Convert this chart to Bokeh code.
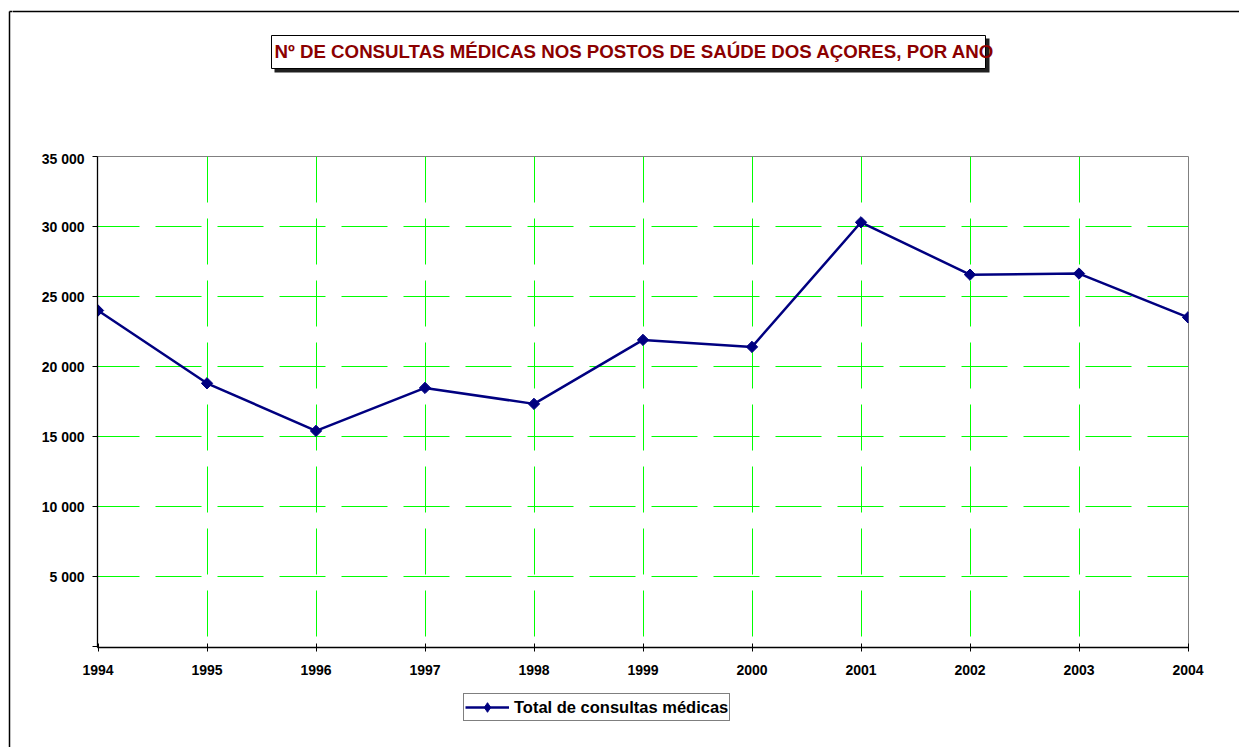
import math
from bokeh.plotting import figure
from bokeh.layouts import column, row
from bokeh.models import Legend, LegendItem, Range1d
from bokeh.core.properties import value
from bokeh.embed import file_html
from bokeh.resources import INLINE

years = [1994, 1995, 1996, 1997, 1998, 1999, 2000, 2001, 2002, 2003, 2004]
consultas = [24000, 18800, 15400, 18470, 17330, 21900, 21400, 30300, 26560, 26640, 23510]
y_ticks = [0, 5000, 10000, 15000, 20000, 25000, 30000, 35000]
y_tick_labels = ["", "5 000", "10 000", "15 000", "20 000", "25 000", "30 000", "35 000"]
x_tick_labels = [str(y) for y in years]
title_text = "Nº DE CONSULTAS MÉDICAS NOS POSTOS DE SAÚDE DOS AÇORES, POR ANO"
series_name = "Total de consultas médicas"

FONT = "Liberation Sans"
PAGE_W, PAGE_H = 1239, 747
STRIP_W = 12
COL_W = PAGE_W - STRIP_W
HEAD_H = 150
MAIN_H = 540
FOOT_H = PAGE_H - HEAD_H - MAIN_H
LINE_COLOR = "#000080"

FRAME_LEFT = 97 - STRIP_W
FRAME_W = 1091
FRAME_RIGHT = COL_W - FRAME_LEFT - FRAME_W


def blank(fig):
    fig.axis.visible = False
    fig.grid.visible = False
    fig.outline_line_color = None
    fig.background_fill_color = "white"
    fig.border_fill_color = "white"
    if "frame_align" in fig.properties():
        fig.frame_align = False


# ---------------- left strip: chart border, left edge ----------------
strip = figure(width=STRIP_W, height=PAGE_H, output_backend="svg", toolbar_location=None,
               x_range=Range1d(0, STRIP_W), y_range=Range1d(PAGE_H, 0),
               min_border=0, title=None)
blank(strip)
strip.segment(x0=[9, 9], y0=[11, 11], x1=[STRIP_W + 2, 9], y1=[11, PAGE_H + 5],
              line_color="black", line_width=1.5)

# ---------------- header: top border + title box ----------------
head = figure(width=COL_W, height=HEAD_H, output_backend="svg", toolbar_location=None,
              x_range=Range1d(STRIP_W, PAGE_W), y_range=Range1d(HEAD_H, 0),
              min_border=0, title=None)
blank(head)
head.segment(x0=[STRIP_W - 2], y0=[11], x1=[PAGE_W + 5], y1=[11],
             line_color="black", line_width=1.5)
head.quad(left=[274], right=[989], top=[38], bottom=[72],
          fill_color="#202020", line_color=None)
head.quad(left=[271], right=[985], top=[35], bottom=[68],
          fill_color="white", line_color="black", line_width=1)
head.text(x=[634], y=[51], text=[title_text], text_font=value(FONT),
          text_font_style="bold", text_font_size="18.7px", text_color="#8B0000",
          text_align="center", text_baseline="middle")

# ---------------- main chart ----------------
FRAME_TOP = 156 - HEAD_H
FRAME_H = 491
px_year = 109.0
px_unit = 70.0 / 5000.0
x0 = years[0] - 0.5 / px_year
x1 = x0 + FRAME_W / px_year
y0 = y_ticks[0] - 1.0 / px_unit
y1 = y0 + FRAME_H / px_unit

p = figure(width=COL_W, height=MAIN_H, output_backend="svg", toolbar_location=None,
           x_range=Range1d(x0, x1), y_range=Range1d(y0, y1),
           min_border_left=FRAME_LEFT, min_border_right=FRAME_RIGHT,
           min_border_top=FRAME_TOP, min_border_bottom=MAIN_H - FRAME_TOP - FRAME_H,
           title=None)
p.background_fill_color = "white"
p.border_fill_color = "white"
p.outline_line_color = "#808080"
p.outline_line_width = 1

for ax in (p.xaxis, p.yaxis):
    ax.axis_line_color = "black"
    ax.axis_line_width = 1.3
    ax.major_tick_line_color = "black"
    ax.minor_tick_line_color = None
    ax.major_label_text_font = FONT
    ax.major_label_text_font_style = "bold"
    ax.major_label_text_font_size = "14px"
    ax.major_label_text_color = "black"

p.xaxis.ticker = years
p.xaxis.major_label_overrides = dict(zip(years, x_tick_labels))
p.xaxis.major_tick_in = 4
p.xaxis.major_tick_out = 4
p.xaxis.major_label_standoff = 13

p.yaxis.ticker = y_ticks
p.yaxis.major_label_overrides = dict(zip(y_ticks, y_tick_labels))
p.yaxis.major_tick_in = 0
p.yaxis.major_tick_out = 5
p.yaxis.major_label_standoff = 8

p.xgrid.ticker = years[1:-1]
p.ygrid.ticker = y_ticks[1:-1]
for g in (p.xgrid, p.ygrid):
    g.grid_line_color = "#00FF00"
    g.grid_line_width = 1
    g.grid_line_dash = "46 16"
p.xgrid.grid_line_dash_offset = 51
p.ygrid.grid_line_dash_offset = 4

p.line(years, consultas, line_color=LINE_COLOR, line_width=2.5)
p.scatter(years, consultas, marker="square", angle=math.pi / 4, size=8,
          fill_color=LINE_COLOR, line_color=LINE_COLOR)

# ---------------- footer: legend (frame aligned with the chart frame) ----------------
foot = figure(width=COL_W, height=FOOT_H, output_backend="svg", toolbar_location=None,
              x_range=Range1d(0, FRAME_W), y_range=Range1d(0, FOOT_H),
              min_border_left=FRAME_LEFT, min_border_right=FRAME_RIGHT,
              min_border_top=0, min_border_bottom=0, title=None)
foot.axis.visible = False
foot.grid.visible = False
foot.outline_line_color = None
foot.background_fill_color = "white"
foot.border_fill_color = "white"
# same series, outside this strip's visible range: only its legend sample shows
lk_line = foot.line(years, consultas, line_color=LINE_COLOR, line_width=2.5)
lk_mark = foot.scatter(years, consultas, marker="diamond", size=13,
                       fill_color=LINE_COLOR, line_color=LINE_COLOR)
legend = Legend(items=[LegendItem(label=series_name, renderers=[lk_line, lk_mark])],
                location=(463 - 97, PAGE_H - 721))
legend.border_line_color = "black"
legend.border_line_width = 1
legend.background_fill_color = "white"
legend.background_fill_alpha = 1
legend.label_text_font = FONT
legend.label_text_font_style = "bold"
legend.label_text_font_size = "16.5px"
legend.label_text_color = "black"
legend.glyph_width = 44
legend.glyph_height = 24
legend.padding = 1
legend.margin = 0
legend.label_standoff = 5
legend.spacing = 0
foot.add_layout(legend)

layout = row(strip, column(head, p, foot, spacing=0), spacing=0)
open("out.html", "w").write(file_html(layout, INLINE))
